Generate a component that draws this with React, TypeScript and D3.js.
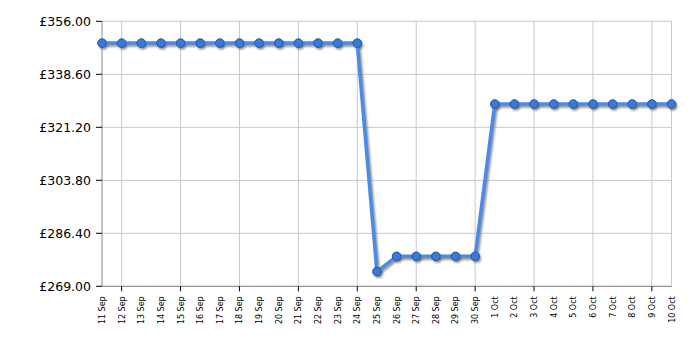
import React from "react";
import * as d3 from "d3";

const dates = [
  "11 Sep","12 Sep","13 Sep","14 Sep","15 Sep","16 Sep","17 Sep","18 Sep","19 Sep","20 Sep",
  "21 Sep","22 Sep","23 Sep","24 Sep","25 Sep","26 Sep","27 Sep","28 Sep","29 Sep","30 Sep",
  "1 Oct","2 Oct","3 Oct","4 Oct","5 Oct","6 Oct","7 Oct","8 Oct","9 Oct","10 Oct",
];
const prices = [
  348.85,348.85,348.85,348.85,348.85,348.85,348.85,348.85,348.85,348.85,
  348.85,348.85,348.85,348.85,273.85,278.85,278.85,278.85,278.85,278.85,
  328.85,328.85,328.85,328.85,328.85,328.85,328.85,328.85,328.85,328.85,
];
const yTicks = [269.0, 286.4, 303.8, 321.2, 338.6, 356.0];
const gridDates = ["12 Sep","15 Sep","18 Sep","21 Sep","24 Sep","27 Sep","30 Sep","3 Oct","6 Oct","9 Oct"];

export default function App() {
  const W = 700, H = 350;
  const left = 102, right = 671.5, top = 21.3, bottom = 286.3;
  const x = d3.scalePoint<string>().domain(dates).range([left, right]);
  const y = d3.scaleLinear().domain([269, 356]).range([bottom, top]);
  const data = dates.map((d, i) => ({ d, v: prices[i] }));
  const line = d3.line<{ d: string; v: number }>().x((p) => x(p.d)!).y((p) => y(p.v));
  const path = line(data)!;
  const font = "DejaVu Sans, Verdana, sans-serif";
  return (
    <svg width={W} height={H} style={{ position: "absolute", left: 0, top: 0 }}>
      <defs>
        <filter id="blur" x="-10%" y="-10%" width="120%" height="120%">
          <feGaussianBlur stdDeviation="0.8" />
        </filter>
      </defs>
      <rect x={0} y={0} width={W} height={H} fill="#fff" />
      {/* horizontal grid */}
      {yTicks.map((t) => (
        <line key={"h" + t} x1={left} x2={right} y1={y(t)} y2={y(t)} stroke="#c8c8c8" strokeWidth={1} />
      ))}
      {/* vertical grid */}
      {gridDates.map((d) => (
        <line key={"v" + d} x1={x(d)} x2={x(d)} y1={top} y2={bottom} stroke="#c8c8c8" strokeWidth={1} />
      ))}
      <line x1={right} x2={right} y1={top} y2={bottom} stroke="#c8c8c8" strokeWidth={1} />
      {/* axes */}
      <line x1={left} x2={left} y1={top} y2={bottom} stroke="#888" strokeWidth={1} />
      <line x1={left} x2={right} y1={bottom} y2={bottom} stroke="#888" strokeWidth={1} />
      {yTicks.map((t) => (
        <g key={"yt" + t}>
          <line x1={left - 6} x2={left} y1={y(t)} y2={y(t)} stroke="#000" strokeWidth={1} />
          <text x={left - 11} y={y(t)} dy="0.35em" textAnchor="end" fontFamily={font} fontSize={12.5} fill="#000">
            {"£" + t.toFixed(2)}
          </text>
        </g>
      ))}
      {gridDates.map((d) => (
        <line key={"xt" + d} x1={x(d)} x2={x(d)} y1={bottom} y2={bottom + 5} stroke="#000" strokeWidth={1} />
      ))}
      {dates.map((d) => (
        <text
          key={"xl" + d}
          transform={`translate(${x(d)! + 3},${bottom + 10}) rotate(-90)`}
          textAnchor="end"
          fontFamily={font}
          fontSize={8}
          fill="#000"
        >
          {d}
        </text>
      ))}
      {/* shadow */}
      <g transform="translate(1.5,2)" filter="url(#blur)">
        <path d={path} fill="none" stroke="#777" strokeWidth={3.5} strokeLinejoin="round" opacity={0.8} />
        {data.map((p) => (
          <circle key={"s" + p.d} cx={x(p.d)} cy={y(p.v)} r={4.5} fill="#555" opacity={0.7} />
        ))}
      </g>
      <path d={path} fill="none" stroke="#4a8be8" strokeWidth={3.5} strokeLinejoin="round" />
      {data.map((p) => (
        <circle key={"c" + p.d} cx={x(p.d)} cy={y(p.v)} r={4.3} fill="#3b79d9" stroke="#2456a6" strokeWidth={1} />
      ))}
    </svg>
  );
}
